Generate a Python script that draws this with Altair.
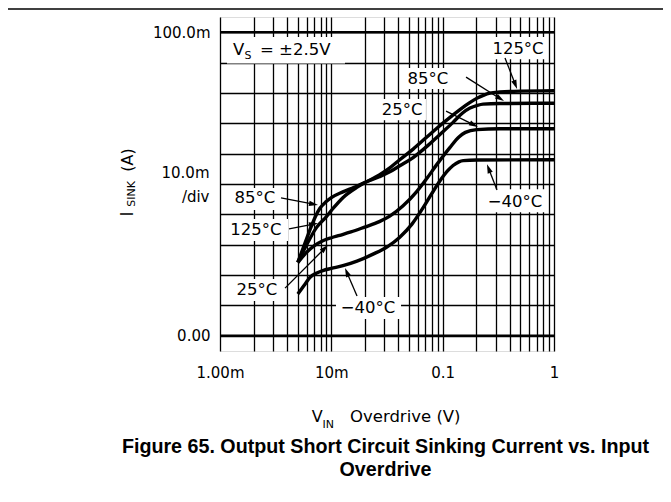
import math
import altair as alt
import pandas as pd

# ---------------- data (x: V, y: A) ----------------
series_names = ["125°C", "85°C", "25°C", "−40°C"]

t125_x = [0.0050, 0.0060, 0.0074, 0.0090, 0.0105, 0.0127, 0.0168, 0.0207, 0.0270, 0.0335, 0.0412,
          0.0543, 0.0717, 0.0881, 0.115, 0.143, 0.175, 0.202, 0.235, 0.266, 0.327, 0.50, 1.0]
t125_y = [0.0242, 0.0300, 0.0358, 0.0392, 0.0422, 0.0455, 0.0488, 0.0507, 0.0530, 0.0553, 0.0580,
          0.0615, 0.0654, 0.0683, 0.0718, 0.0745, 0.0768, 0.0782, 0.0793, 0.0799, 0.0803, 0.0806, 0.0807]

t85_x = [0.0050, 0.0058, 0.0064, 0.0072, 0.0079, 0.0090, 0.0100, 0.0127, 0.0160, 0.0199, 0.0270, 0.0335,
         0.0412, 0.0543, 0.0717, 0.0950, 0.124, 0.150, 0.176, 0.205, 0.231, 0.327, 1.0]
t85_y = [0.0242, 0.0305, 0.0347, 0.0393, 0.0420, 0.0442, 0.0455, 0.0474, 0.0489, 0.0505, 0.0524, 0.0540,
         0.0560, 0.0587, 0.0623, 0.0664, 0.0703, 0.0733, 0.0750, 0.0759, 0.0763, 0.0765, 0.0766]

t25_x = [0.0050, 0.0060, 0.0070, 0.0084, 0.0100, 0.0119, 0.0150, 0.0199, 0.0270, 0.0335, 0.0441, 0.0582,
         0.0717, 0.0881, 0.116, 0.140, 0.160, 0.202, 0.327, 1.0]
t25_y = [0.0241, 0.0275, 0.0296, 0.0313, 0.0323, 0.0331, 0.0342, 0.0358, 0.0376, 0.0394, 0.0428, 0.0474,
         0.0517, 0.0563, 0.0620, 0.0655, 0.0670, 0.0679, 0.0682, 0.0682]

tm40_x = [0.0050, 0.0058, 0.0064, 0.0075, 0.0084, 0.0100, 0.0127, 0.0170, 0.0237, 0.0320, 0.0412, 0.0530,
          0.0668, 0.0800, 0.0944, 0.110, 0.124, 0.140, 0.153, 0.202, 1.0]
tm40_y = [0.0138, 0.0170, 0.0192, 0.0208, 0.0215, 0.0222, 0.0231, 0.0246, 0.0269, 0.0294, 0.0325, 0.0368,
          0.0422, 0.0469, 0.0510, 0.0542, 0.0561, 0.0573, 0.0577, 0.0579, 0.0580]

# grid / tick positions
x_grid = [k * 10.0 ** d for d in (-3, -2, -1) for k in range(1, 10)] + [1.0]
y_grid = [i / 100.0 for i in range(11)]
y_heavy = [0.0, 0.1]

# label annotations: text, x, y (data units)
label_text = ["125°C", "85°C", "25°C", "−40°C", "85°C", "125°C", "25°C", "−40°C"]
label_x = [0.475, 0.0738, 0.0432, 0.4467, 0.00206, 0.00210, 0.00215, 0.02133]
label_y = [0.0945, 0.0846, 0.0744, 0.0441, 0.0454, 0.0348, 0.0151, 0.0092]

# white boxes behind labels: x1, x2, y1, y2
box_x1 = [0.2606, 0.0459, 0.02624, 0.2350, 0.001205, 0.001109, 0.001256, 0.01101, 0.001156]
box_x2 = [0.883, 0.1189, 0.0708, 0.883, 0.003459, 0.004083, 0.003681, 0.04227, 0.01327]
box_y1 = [0.0984, 0.0882, 0.0780, 0.0483, 0.0487, 0.0385, 0.0187, 0.0128, 0.0984]
box_y2 = [0.0911, 0.0813, 0.0710, 0.0407, 0.0414, 0.0312, 0.0115, 0.0055, 0.0897]

# arrows: tail -> tip
arr_x0 = [0.363, 0.1622, 0.1072, 0.3076, 0.003532, 0.004169, 0.003837, 0.01701]
arr_y0 = [0.0915, 0.0852, 0.0740, 0.0480, 0.0454, 0.0352, 0.0157, 0.0131]
arr_x1 = [0.466, 0.3556, 0.2075, 0.250, 0.007586, 0.007586, 0.009333, 0.01327]
arr_y1 = [0.0813, 0.0773, 0.0688, 0.0565, 0.0431, 0.0371, 0.0299, 0.0223]

# ---------------- geometry helpers ----------------
W, H = 334, 334
XD = (0.001, 1.0)
YD = (-0.005, 0.105)


def to_px(x, y):
    lx0, lx1 = math.log10(XD[0]), math.log10(XD[1])
    return (W * (math.log10(x) - lx0) / (lx1 - lx0),
            H * (YD[1] - y) / (YD[1] - YD[0]))


def from_px(px, py):
    lx0, lx1 = math.log10(XD[0]), math.log10(XD[1])
    return (10 ** (lx0 + px / W * (lx1 - lx0)),
            YD[1] - py / H * (YD[1] - YD[0]))


HEAD_R = 4.5
heads = []
shafts = []
for x0, y0, x1, y1 in zip(arr_x0, arr_y0, arr_x1, arr_y1):
    p0 = to_px(x0, y0)
    p1 = to_px(x1, y1)
    dx, dy = p1[0] - p0[0], p1[1] - p0[1]
    L = math.hypot(dx, dy)
    ux, uy = dx / L, dy / L
    ang = math.degrees(math.atan2(dx, -dy)) % 360
    cx, cy = from_px(p1[0] - HEAD_R * ux, p1[1] - HEAD_R * uy)
    heads.append({"x": cx, "y": cy, "ang": ang})
    shafts.append({"x": x0, "y": y0, "x2": cx, "y2": cy})

# ---------------- tables ----------------
rows = []
for name, xs, ys in zip(series_names, [t125_x, t85_x, t25_x, tm40_x], [t125_y, t85_y, t25_y, tm40_y]):
    for a, b in zip(xs, ys):
        rows.append({"series": name, "x": a, "y": b})
curves = pd.DataFrame(rows)

labels_df = pd.DataFrame({"t": label_text, "x": label_x, "y": label_y})
boxes_df = pd.DataFrame({"x": box_x1, "x2": box_x2, "y": box_y1, "y2": box_y2})
heads_df = pd.DataFrame(heads)
shafts_df = pd.DataFrame(shafts)
heavy_df = pd.DataFrame({"y": y_heavy})

FONT = "DejaVu Sans"

xscale = alt.Scale(type="log", domain=list(XD), nice=False)
yscale = alt.Scale(domain=list(YD), nice=False, zero=False)

x_axis = alt.Axis(
    values=x_grid, grid=True, gridColor="black", gridWidth=1.3, gridOpacity=1,
    ticks=False, domain=False, title=None, labelFont=FONT, labelFontSize=15,
    labelColor="black", labelPadding=14, labelFlush=False, labelOverlap=False,
    labelExpr="datum.value < 0.0015 ? '1.00m' : (abs(datum.value - 0.01) < 1e-9 ? '10m' : "
              "(abs(datum.value - 0.1) < 1e-9 ? '0.1' : (datum.value > 0.99 ? '1' : '')))",
)
y_axis = alt.Axis(
    values=y_grid, grid=True, gridColor="black", gridWidth=1.3, gridOpacity=1,
    ticks=False, domain=False, title=None, labelFont=FONT, labelFontSize=15,
    labelColor="black", labelPadding=10, labelOverlap=False,
    labelExpr="datum.value > 0.095 ? '100.0m' : (datum.value < 0.0005 ? '0.00' : '')",
)

X = alt.X("x:Q", scale=xscale, axis=x_axis)
Y = alt.Y("y:Q", scale=yscale, axis=y_axis)

lines = alt.Chart(curves).mark_line(color="black", strokeWidth=3.4, interpolate="monotone").encode(
    x=X, y=Y, detail="series:N")

heavy = alt.Chart(heavy_df).mark_rule(color="black", strokeWidth=2.6).encode(y=Y)

boxes = alt.Chart(boxes_df).mark_rect(fill="white", stroke=None).encode(
    x=X, x2="x2:Q", y=Y, y2="y2:Q")

label_marks = alt.Chart(labels_df).mark_text(
    font=FONT, fontSize=16.5, color="black", align="center", baseline="middle").encode(
    x=X, y=Y, text="t:N")

shaft_marks = alt.Chart(shafts_df).mark_rule(color="black", strokeWidth=1.3).encode(
    x=X, y=Y, x2="x2:Q", y2="y2:Q")

head_marks = alt.Chart(heads_df).mark_point(
    shape="M0,-1L0.6,1L-0.6,1Z", filled=True, size=81, color="black", opacity=1, strokeWidth=0).encode(
    x=X, y=Y, angle=alt.Angle("ang:Q", scale=None))

# V_S = ±2.5V annotation, anchored in data coordinates
vs_df = pd.DataFrame({"x": [0.001309], "y": [0.0941]})
vs_v = alt.Chart(vs_df).mark_text(text="V", font=FONT, fontSize=16.5, align="left", baseline="middle",
                                  color="black").encode(x=X, y=Y)
vs_s = alt.Chart(vs_df).mark_text(text="S", font=FONT, fontSize=11, align="left", baseline="middle",
                                  dx=11.5, dy=6, color="black").encode(x=X, y=Y)
vs_rest = alt.Chart(vs_df).mark_text(text="=  ±2.5V", font=FONT, fontSize=16.5, align="left",
                                     baseline="middle", dx=27, color="black").encode(x=X, y=Y)

one = pd.DataFrame({"k": [0]})


def free_text(txt, px, py, **kw):
    return alt.Chart(one).mark_text(text=txt, color="black", **kw).encode(
        x=alt.value(px), y=alt.value(py))


texts = [
    free_text("10.0m", -10.5, 155.7, font=FONT, fontSize=15, align="right", baseline="middle"),
    free_text("/div", -10.5, 179.7, font=FONT, fontSize=15, align="right", baseline="middle"),
    free_text("I", -87, 197, font=FONT, fontSize=17, angle=270, align="center", baseline="alphabetic"),
    free_text("SINK", -85, 177, font=FONT, fontSize=11, angle=270, align="center", baseline="alphabetic"),
    free_text("(A)", -87, 143, font=FONT, fontSize=16, angle=270, align="center", baseline="alphabetic"),
    free_text("V", 91.7, 400, font=FONT, fontSize=16, align="left", baseline="middle"),
    free_text("IN", 102.5, 408, font=FONT, fontSize=11, align="left", baseline="middle"),
    free_text("Overdrive (V)", 130, 400, font=FONT, fontSize=16.5, align="left", baseline="middle"),
    free_text("Figure 65. Output Short Circuit Sinking Current vs. Input", 165.5, 430,
              font="Liberation Sans", fontSize=19.7, fontWeight="bold", align="center", baseline="middle"),
    free_text("Overdrive", 165.5, 453, font="Liberation Sans", fontSize=19.7, fontWeight="bold",
              align="center", baseline="middle"),
]

page_rule = alt.Chart(one).mark_rule(color="black", strokeWidth=1.5).encode(
    x=alt.value(-212), x2=alt.value(443), y=alt.value(-8))

chart = alt.layer(
    lines, heavy, boxes, label_marks, vs_v, vs_s, vs_rest, shaft_marks, head_marks, *texts, page_rule
).properties(
    width=W, height=H,
    autosize=alt.AutoSizeParams(type="none"),
    padding={"left": 212, "top": 9, "right": 109, "bottom": 140},
).configure_view(
    stroke="black", strokeWidth=2
).configure(background="white")

chart.save("out.html", embed_options={"renderer": "svg", "actions": False})
